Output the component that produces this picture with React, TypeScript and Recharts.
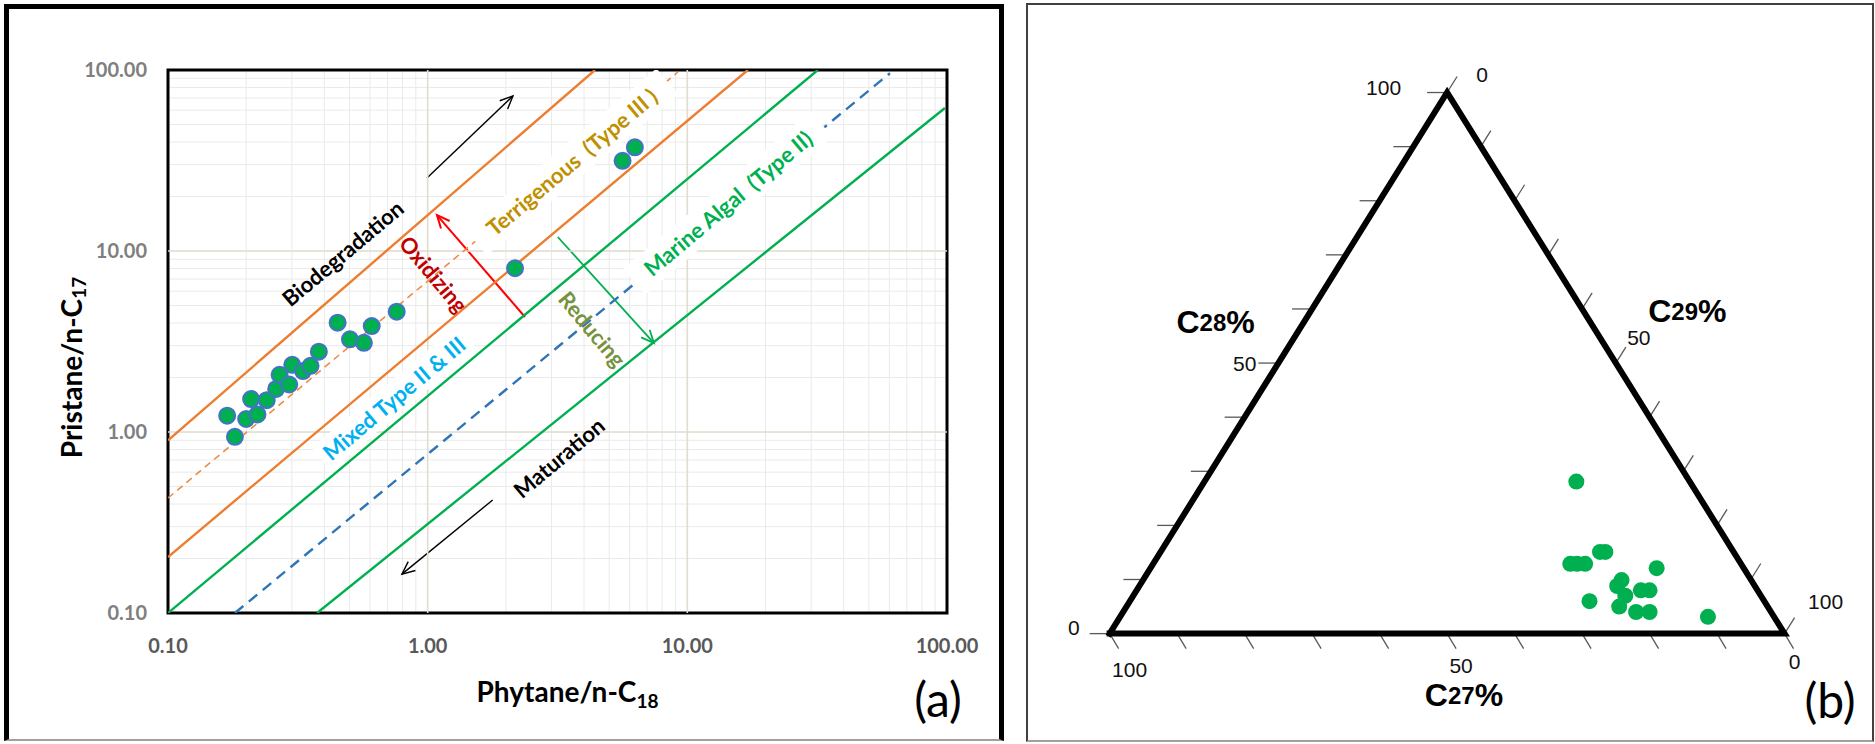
import React from 'react';
import {
  ScatterChart,
  Scatter,
  XAxis,
  YAxis,
  CartesianGrid,
  ReferenceLine,
  ReferenceArea,
} from 'recharts';

const FONT = 'Lato, "Open Sans", sans-serif';
const ARIAL = '"Liberation Sans", Arial, sans-serif';

// ---------- panel (a): Pristane/n-C17 vs Phytane/n-C18 ----------
const phytane = [0.169, 0.181, 0.2, 0.221, 0.209, 0.24, 0.261, 0.269, 0.293, 0.301, 0.331, 0.354, 0.381, 0.45, 0.502, 0.568, 0.609, 0.76, 2.17, 5.63, 6.28];
const pristane = [1.23, 0.94, 1.18, 1.25, 1.52, 1.5, 1.73, 2.07, 1.83, 2.35, 2.17, 2.32, 2.78, 4.02, 3.25, 3.11, 3.85, 4.62, 8.03, 31.5, 37.4];

const logTicks = [
  0.1, 0.2, 0.3, 0.4, 0.5, 0.6, 0.7, 0.8, 0.9,
  1, 2, 3, 4, 5, 6, 7, 8, 9,
  10, 20, 30, 40, 50, 60, 70, 80, 90, 100,
];
const labelledTicks = [0.1, 1, 10, 100];
const majorGrid = [1, 10];

// zone boundary lines (start / end in data units)
const boundaryNames = ['midOrange', 'midBlue', 'upperOrange', 'lowerOrange', 'upperGreen', 'lowerGreen'];
const boundaryStartX = [0.1, 0.181, 0.1, 0.1, 0.1, 0.375];
const boundaryStartY = [0.432, 0.1, 0.9, 0.204, 0.1, 0.1];
const boundaryEndX = [9.2, 60.3, 4.41, 17.1, 31.8, 98.2];
const boundaryEndY = [97.5, 96, 100, 100, 100, 61.7];

const arrowNames = ['biodegradation', 'maturation', 'oxidizing', 'reducing'];
const arrowFromX = [0.994, 1.78, 2.37, 3.17];
const arrowFromY = [25.3, 0.421, 4.32, 11.95];
const arrowToX = [2.13, 0.796, 1.086, 7.44];
const arrowToY = [71.8, 0.164, 15.8, 3.1];

const zoneLabels = ['Biodegradation', 'Oxidizing', 'Terrigenous  (Type III )', 'Marine Algal  (Type II)', 'Mixed Type II & III', 'Reducing', 'Maturation'];
const zoneLabelX = [0.47, 1.058, 3.585, 14.33, 0.742, 4.31, 3.2];
const zoneLabelY = [9.75, 7.46, 31.1, 18.4, 1.54, 3.71, 0.723];

const boundaryStyle: Record<string, any> = {
  midOrange: { stroke: '#ee8a48', strokeWidth: 1.6, strokeDasharray: '7 5' },
  midBlue: { stroke: '#2e75b6', strokeWidth: 2.4, strokeDasharray: '11 7' },
  upperOrange: { stroke: '#ed7d31', strokeWidth: 2.4 },
  lowerOrange: { stroke: '#ed7d31', strokeWidth: 2.4 },
  upperGreen: { stroke: '#00b050', strokeWidth: 2.4 },
  lowerGreen: { stroke: '#00b050', strokeWidth: 2.4 },
};
const arrowStyle: Record<string, any> = {
  biodegradation: { color: '#000', width: 1.4 },
  maturation: { color: '#000', width: 1.4 },
  oxidizing: { color: '#ff0000', width: 2 },
  reducing: { color: '#00b050', width: 1.8 },
};
const zoneLabelStyle = [
  { color: '#000000', angle: -40 },
  { color: '#c00000', angle: 50 },
  { color: '#bf9000', angle: -40, box: [250, 34] },
  { color: '#00b050', angle: -40, box: [245, 34] },
  { color: '#00b0f0', angle: -40, box: [190, 30] },
  { color: '#76923c', angle: 50 },
  { color: '#000000', angle: -40 },
];

// ---------- panel (b): C27 / C28 / C29 sterane ternary ----------
const c27 = [16.8, 25.3, 24.3, 23.1, 19.8, 19.0, 12.9, 19.2, 20.4, 20.1, 17.3, 16.0, 25.9, 22.0, 20.0, 18.0, 9.8];
const c28 = [28.1, 12.9, 12.9, 12.9, 15.1, 15.1, 12.1, 9.9, 8.8, 7.0, 8.0, 8.0, 6.0, 5.0, 4.0, 4.0, 3.1];
const c29 = [55.1, 61.8, 62.8, 64.0, 65.1, 65.9, 75.0, 70.9, 70.8, 72.9, 74.7, 76.0, 68.1, 73.0, 76.0, 78.0, 87.1];

const ternaryTicks = [0, 10, 20, 30, 40, 50, 60, 70, 80, 90, 100];
const ternaryTitles = ['28', '29', '27'];

// layout of panel (b)
const TERN_X_DOMAIN = [-11.8, 113.4];
const TERN_Y_DOMAIN = [-20.4, 117.1];
const TITLE_POS = [
  [15.7, 57.5],
  [85.6, 59.6],
  [52.5, -11.4],
];
const tickDir: Record<string, number[]> = { left: [-20, 0], bottom: [9, 15], right: [10, -16] };
const tickLabelOffset: Record<string, Record<number, number[]>> = {
  left: { 0: [-30, -6], 50: [-22, 0], 100: [-46, -5] },
  bottom: { 100: [20, 36], 50: [14, 32], 0: [10, 28] },
  right: { 0: [35, -18], 50: [23, -26], 100: [41, -32] },
};

const toXY = (a: number, b: number, c: number) => ({ x: c + b / 2, y: b });
const noShape = () => <g />;

const arrowShape = (color: string, width: number) => (p: any) => {
  const { x1, y1, x2, y2 } = p;
  const ang = Math.atan2(y2 - y1, x2 - x1);
  const len = 14;
  const spread = 0.42;
  const ax = x2 - len * Math.cos(ang - spread);
  const ay = y2 - len * Math.sin(ang - spread);
  const bx = x2 - len * Math.cos(ang + spread);
  const by = y2 - len * Math.sin(ang + spread);
  return (
    <g>
      <line x1={x1} y1={y1} x2={x2} y2={y2} stroke={color} strokeWidth={width} />
      <polyline points={`${ax},${ay} ${x2},${y2} ${bx},${by}`} fill="none" stroke={color} strokeWidth={width} />
    </g>
  );
};

const renderZoneLabel = (p: any) => {
  const { cx, cy, payload } = p;
  const s: any = zoneLabelStyle[payload.idx];
  return (
    <g transform={`translate(${cx},${cy}) rotate(${s.angle})`}>
      {s.box ? (
        <rect x={-s.box[0] / 2} y={-s.box[1] / 2} width={s.box[0]} height={s.box[1]} fill="#fff" />
      ) : null}
      <text
        textAnchor="middle"
        dominantBaseline="central"
        fontFamily={FONT}
        fontWeight={700}
        fontSize={22}
        fill={s.color}
        style={{ whiteSpace: 'pre' }}
      >
        {payload.text}
      </text>
    </g>
  );
};

const XTitle = (props: any) => {
  const vb = props.viewBox;
  return (
    <text x={vb.x + vb.width / 2 + 10} y={vb.y + 89} textAnchor="middle" fontFamily={FONT} fontWeight={700} fontSize={28} fill="#000">
      Phytane/n-C<tspan fontSize={19} dy={6}>18</tspan>
    </text>
  );
};

const YTitle = (props: any) => {
  const vb = props.viewBox;
  const cx = vb.x - 37;
  const cy = vb.y + vb.height / 2 + 26;
  return (
    <text
      x={cx}
      y={cy}
      transform={`rotate(-90, ${cx}, ${cy})`}
      textAnchor="middle"
      dominantBaseline="central"
      fontFamily={FONT}
      fontWeight={700}
      fontSize={28}
      fill="#000"
    >
      Pristane/n-C<tspan fontSize={19} dy={7}>17</tspan>
    </text>
  );
};

const fmtLog = (v: number) => (labelledTicks.includes(v) ? v.toFixed(2) : '');

function PanelA() {
  const samples = phytane.map((x, i) => ({ x, y: pristane[i] }));
  const boundaries = boundaryNames.map((name, i) => ({
    name,
    points: [
      { x: boundaryStartX[i], y: boundaryStartY[i] },
      { x: boundaryEndX[i], y: boundaryEndY[i] },
    ],
  }));
  const zones = zoneLabels.map((text, i) => ({ x: zoneLabelX[i], y: zoneLabelY[i], text, idx: i }));
  const dashed = boundaries.filter((b) => boundaryStyle[b.name].strokeDasharray);
  const solid = boundaries.filter((b) => !boundaryStyle[b.name].strokeDasharray);

  const lineSeries = (b: any) => (
    <Scatter
      key={b.name}
      data={b.points}
      line={{ ...boundaryStyle[b.name], fill: 'none' }}
      shape={noShape}
      isAnimationActive={false}
    />
  );

  return (
    <ScatterChart width={1010} height={744} margin={{ top: 70, right: 63, bottom: 61, left: 108 }}>
      <CartesianGrid stroke="#eaeaea" strokeWidth={1} />
      <XAxis
        type="number"
        dataKey="x"
        scale="log"
        domain={[0.1, 100]}
        ticks={logTicks}
        interval={0}
        tickFormatter={fmtLog}
        tickLine={false}
        axisLine={false}
        tickSize={0}
        tickMargin={26}
        height={70}
        allowDataOverflow
        tick={{ fill: '#595959', fontSize: 20, fontWeight: 700, fontFamily: FONT }}
        label={XTitle}
      />
      <YAxis
        type="number"
        dataKey="y"
        scale="log"
        domain={[0.1, 100]}
        ticks={logTicks}
        interval={0}
        tickFormatter={fmtLog}
        tickLine={false}
        axisLine={false}
        tickSize={0}
        tickMargin={21}
        width={60}
        allowDataOverflow
        tick={{ fill: '#7f7f7f', fontSize: 20, fontWeight: 700, fontFamily: FONT }}
        label={YTitle}
      />
      {majorGrid.map((v) => (
        <Scatter
          key={`gx${v}`}
          data={[{ x: v, y: 0.1 }, { x: v, y: 100 }]}
          line={{ stroke: '#e2decf', strokeWidth: 1.6, fill: 'none' }}
          shape={noShape}
          isAnimationActive={false}
        />
      ))}
      {majorGrid.map((v) => (
        <Scatter
          key={`gy${v}`}
          data={[{ x: 0.1, y: v }, { x: 100, y: v }]}
          line={{ stroke: '#e2decf', strokeWidth: 1.6, fill: 'none' }}
          shape={noShape}
          isAnimationActive={false}
        />
      ))}
      {dashed.map(lineSeries)}
      <Scatter data={zones} shape={renderZoneLabel} isAnimationActive={false} />
      {solid.map(lineSeries)}
      <Scatter
        data={samples}
        shape={(p: any) => <circle cx={p.cx} cy={p.cy} r={8} fill="#00b050" stroke="#4472c4" strokeWidth={2} />}
        isAnimationActive={false}
      />
      <ReferenceArea x1={0.1} x2={100} y1={0.1} y2={100} fill="none" stroke="#000" strokeWidth={3} ifOverflow="visible" />
      {arrowNames.map((name, i) => (
        <ReferenceLine
          key={name}
          segment={[
            { x: arrowFromX[i], y: arrowFromY[i] },
            { x: arrowToX[i], y: arrowToY[i] },
          ]}
          ifOverflow="visible"
          shape={arrowShape(arrowStyle[name].color, arrowStyle[name].width)}
        />
      ))}
    </ScatterChart>
  );
}

const makeTickShape = (side: string) => (p: any) => {
  const { cx, cy, payload } = p;
  const [dx, dy] = tickDir[side];
  const off = tickLabelOffset[side][payload.v];
  return (
    <g>
      <line x1={cx} y1={cy} x2={cx + dx} y2={cy + dy} stroke="#595959" strokeWidth={1.3} />
      {off ? (
        <text
          x={cx + off[0]}
          y={cy + off[1]}
          textAnchor={side === 'left' ? 'end' : 'middle'}
          dominantBaseline="central"
          fontFamily={ARIAL}
          fontSize={21}
          fill="#111"
        >
          {payload.v}
        </text>
      ) : null}
    </g>
  );
};

const renderTernaryTitle = (p: any) => (
  <text x={p.cx} y={p.cy} textAnchor="middle" dominantBaseline="central" fontFamily={ARIAL} fontWeight={700} fill="#000">
    <tspan fontSize={32}>C</tspan>
    <tspan fontSize={24}>{p.payload.sub}</tspan>
    <tspan fontSize={32}>%</tspan>
  </text>
);

function PanelB() {
  const samples = c27.map((a, i) => toXY(a, c28[i], c29[i]));
  const outline = [toXY(100, 0, 0), toXY(0, 0, 100), toXY(0, 100, 0), toXY(100, 0, 0)];
  const leftTicks = ternaryTicks.map((v) => ({ ...toXY(100 - v, v, 0), v }));
  const bottomTicks = ternaryTicks.map((v) => ({ ...toXY(v, 0, 100 - v), v }));
  const rightTicks = ternaryTicks.map((v) => ({ ...toXY(0, 100 - v, v), v }));
  const titles = ternaryTitles.map((sub, i) => ({ x: TITLE_POS[i][0], y: TITLE_POS[i][1], sub }));

  return (
    <ScatterChart width={845} height={744} margin={{ top: 0, right: 0, bottom: 0, left: 0 }}>
      <XAxis type="number" dataKey="x" domain={TERN_X_DOMAIN} hide allowDataOverflow />
      <YAxis type="number" dataKey="y" domain={TERN_Y_DOMAIN} hide allowDataOverflow />
      <Scatter data={leftTicks} shape={makeTickShape('left')} isAnimationActive={false} />
      <Scatter data={bottomTicks} shape={makeTickShape('bottom')} isAnimationActive={false} />
      <Scatter data={rightTicks} shape={makeTickShape('right')} isAnimationActive={false} />
      <Scatter
        data={outline}
        line={{ stroke: '#000', strokeWidth: 6, fill: 'none', strokeLinejoin: 'miter', strokeLinecap: 'square' }}
        shape={noShape}
        isAnimationActive={false}
      />
      <Scatter
        data={samples}
        shape={(p: any) => <circle cx={p.cx} cy={p.cy} r={8} fill="#00b050" />}
        isAnimationActive={false}
      />
      <Scatter data={titles} shape={renderTernaryTitle} isAnimationActive={false} />
    </ScatterChart>
  );
}

export default function App() {
  return (
    <div style={{ position: 'absolute', left: 0, top: 0, width: 1875, height: 744, background: '#fff', overflow: 'hidden' }}>
      <div
        style={{
          position: 'absolute',
          left: 4,
          top: 4,
          width: 1000,
          height: 737,
          boxSizing: 'border-box',
          borderTop: '5px solid #000',
          borderLeft: '5px solid #000',
          borderRight: '5px solid #000',
          borderBottom: '2px solid #a0a0a0',
        }}
      />
      <div
        style={{
          position: 'absolute',
          left: 1026,
          top: 3,
          width: 848,
          height: 739,
          boxSizing: 'border-box',
          border: '2px solid #404040',
          borderBottom: '2px solid #a0a0a0',
        }}
      />
      <div style={{ position: 'absolute', left: 0, top: 0 }}>
        <PanelA />
      </div>
      <div style={{ position: 'absolute', left: 1030, top: 0 }}>
        <PanelB />
      </div>
      <span style={{ position: 'absolute', left: 938, top: 699, transform: 'translate(-50%, -50%)', fontFamily: FONT, fontSize: 48, lineHeight: 1 }}>
        (a)
      </span>
      <span style={{ position: 'absolute', left: 1830, top: 700, transform: 'translate(-50%, -50%)', fontFamily: FONT, fontSize: 48, lineHeight: 1 }}>
        (b)
      </span>
    </div>
  );
}
